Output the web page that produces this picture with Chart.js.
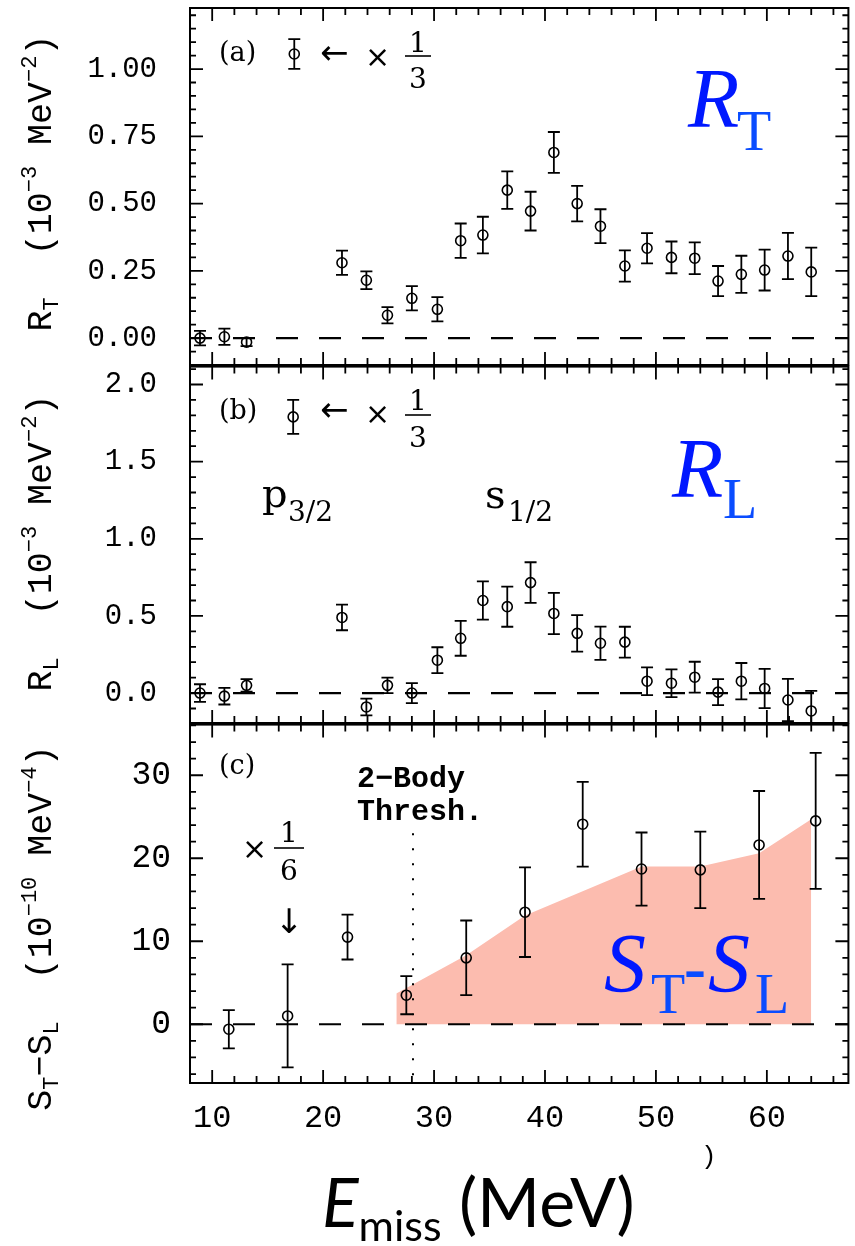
<!DOCTYPE html>
<html>
<head>
<meta charset="utf-8">
<script src="https://cdn.jsdelivr.net/npm/chart.js@4.4.1/dist/chart.umd.min.js"></script>
<style>
  body { margin: 0; background: #fff; width: 855px; height: 1246px; position: relative; overflow: hidden; }
  .panel { position: absolute; left: 0; width: 855px; }
</style>
</head>
<body>
<div class="panel" style="top:0;height:380px"><canvas id="panelA"></canvas></div>
<div class="panel" style="top:360px;height:380px"><canvas id="panelB"></canvas></div>
<div class="panel" style="top:718px;height:528px"><canvas id="panelC"></canvas></div>
<script>
// missing energy (MeV) of the points in panels (a) and (b)
const E_AB = [8.9, 11.1, 13.1, 21.7, 23.9, 25.8, 28.0, 30.3, 32.4, 34.4, 36.6, 38.7,
  40.8, 42.9, 45.0, 47.2, 49.2, 51.4, 53.5, 55.6, 57.7, 59.8, 61.9, 64.0];
const RT = [0.00, 0.005, -0.015, 0.28, 0.215, 0.085, 0.148, 0.107, 0.362, 0.383, 0.55, 0.472,
  0.69, 0.50, 0.416, 0.268, 0.334, 0.30, 0.297, 0.212, 0.237, 0.253, 0.305, 0.246];
const RT_ERR = [0.027, 0.03, 0.015, 0.045, 0.033, 0.03, 0.045, 0.045, 0.064, 0.068, 0.07, 0.072,
  0.076, 0.066, 0.063, 0.058, 0.056, 0.059, 0.059, 0.056, 0.069, 0.076, 0.086, 0.09];
const RL = [0.0, -0.02, 0.05, 0.49, -0.09, 0.05, 0.0, 0.213, 0.355, 0.60, 0.56, 0.716,
  0.516, 0.387, 0.323, 0.33, 0.077, 0.064, 0.103, 0.006, 0.077, 0.03, -0.045, -0.116];
const RL_ERR = [0.057, 0.054, 0.04, 0.083, 0.054, 0.05, 0.065, 0.084, 0.113, 0.124, 0.13, 0.132,
  0.134, 0.118, 0.108, 0.10, 0.09, 0.09, 0.10, 0.084, 0.118, 0.127, 0.137, 0.13];

// the p3/2 peak points, drawn at 1/3 scale
const E_A_SCALED = [17.4];
const RT_SCALED = [1.056];
const RT_SCALED_ERR = [0.055];
const E_B_SCALED = [17.3];
const RL_SCALED = [1.79];
const RL_SCALED_ERR = [0.11];

// panel (c)
const E_C = [11.5, 16.8, 22.2, 27.5, 32.9, 38.2, 43.4, 48.7, 54.0, 59.3, 64.4];
const STSL = [-0.6, 1.0, 10.5, 3.5, 8.0, 13.5, 24.1, 18.7, 18.6, 21.6, 24.5];
const STSL_ERR = [2.3, 6.2, 2.7, 2.3, 4.5, 5.4, 5.1, 4.4, 4.6, 6.5, 8.2];
const FILL_E = [26.6, 32.9, 38.2, 48.7, 54.0, 59.3, 64.0];
const FILL_V = [3.7, 8.3, 13.1, 19.0, 19.0, 20.6, 24.7];
const THRESHOLD_E = 28.1;

const X_TICKS = [10, 20, 30, 40, 50, 60];
const RT_TICKS = [0, 0.25, 0.5, 0.75, 1.0];
const RL_TICKS = [0, 0.5, 1.0, 1.5, 2.0];
const STSL_TICKS = [0, 10, 20, 30];

const MONO = "'Liberation Mono', monospace";
const SYM = "'DejaVu Sans', sans-serif";
const SERIF = "'Liberation Serif', serif";
const CAMBRIA = "'DejaVu Serif', serif";
const SANS = "Lato, 'Open Sans', sans-serif";
const BLUE = "#0018ff";
const BLUE_SUB = "#0a4cff";
const SALMON = "rgb(252, 188, 175)";

const toXY = (xs, ys) => xs.map((x, i) => ({ x: x, y: ys[i] }));

const marker = {
  showLine: false,
  pointRadius: 5,
  pointBorderWidth: 1.6,
  borderColor: "#000",
  pointBorderColor: "#000",
  backgroundColor: "rgba(255,255,255,0)",
  pointBackgroundColor: "rgba(255,255,255,0)",
};

function put(ctx, str, x, y, font, color, align) {
  ctx.font = font;
  ctx.fillStyle = color || "#000";
  ctx.textAlign = align || "left";
  ctx.textBaseline = "alphabetic";
  ctx.fillText(str, x, y);
}

// run of text pieces: [text, font, dy]
function rich(ctx, x, y, parts, center) {
  ctx.textAlign = "left";
  ctx.textBaseline = "alphabetic";
  let w = 0;
  parts.forEach((p) => { ctx.font = p[1]; w += ctx.measureText(p[0]).width; });
  let cx = center ? x - w / 2 : x;
  parts.forEach((p) => {
    ctx.font = p[1];
    ctx.fillStyle = p[3] || "#000";
    ctx.fillText(p[0], cx, y + (p[2] || 0));
    cx += ctx.measureText(p[0]).width;
  });
}

function yTitle(ctx, cx, cy, parts) {
  ctx.save();
  ctx.translate(cx, cy);
  ctx.rotate(-Math.PI / 2);
  rich(ctx, 0, 0, parts, true);
  ctx.restore();
}

function fraction(ctx, cx, num, den, yNum, yBar, yDen, halfBar) {
  put(ctx, num, cx, yNum, `28px ${CAMBRIA}`, "#000", "center");
  put(ctx, den, cx, yDen, `28px ${CAMBRIA}`, "#000", "center");
  ctx.lineWidth = 1.6;
  ctx.strokeStyle = "#000";
  ctx.beginPath();
  ctx.moveTo(cx - halfBar, yBar);
  ctx.lineTo(cx + halfBar, yBar);
  ctx.stroke();
}

function panelDecor(p) {
  return {
    id: "decor",
    afterDatasetsDraw(chart) {
      const { ctx, chartArea: a, scales: { x, y } } = chart;
      ctx.save();
      ctx.beginPath();
      ctx.rect(a.left, a.top, a.right - a.left, a.bottom - a.top);
      ctx.clip();
      ctx.strokeStyle = "#000";
      if (p.threshold) {
        ctx.lineWidth = 2;
        ctx.setLineDash([2, 13]);
        const tx = x.getPixelForValue(p.threshold);
        ctx.beginPath();
        ctx.moveTo(tx, y.getPixelForValue(23));
        ctx.lineTo(tx, a.bottom);
        ctx.stroke();
      }
      // dashed zero line
      ctx.lineWidth = 2.2;
      ctx.setLineDash([22, 21]);
      const y0 = y.getPixelForValue(0);
      ctx.beginPath();
      ctx.moveTo(a.left, y0);
      ctx.lineTo(a.right, y0);
      ctx.stroke();
      ctx.setLineDash([]);
      // error bars
      ctx.lineWidth = 1.8;
      p.errors.forEach((s) => {
        s.xs.forEach((e, i) => {
          const px = x.getPixelForValue(e);
          const hi = y.getPixelForValue(s.ys[i] + s.errs[i]);
          const lo = y.getPixelForValue(s.ys[i] - s.errs[i]);
          ctx.beginPath();
          ctx.moveTo(px, hi); ctx.lineTo(px, lo);
          ctx.moveTo(px - 6, hi); ctx.lineTo(px + 6, hi);
          ctx.moveTo(px - 6, lo); ctx.lineTo(px + 6, lo);
          ctx.stroke();
        });
      });
      ctx.restore();
    },
    afterDraw(chart) {
      const { ctx, chartArea: a, scales: { x, y } } = chart;
      ctx.save();
      ctx.strokeStyle = "#000";
      ctx.lineWidth = 2;
      ctx.strokeRect(a.left, a.top, a.right - a.left, a.bottom - a.top);
      ctx.lineWidth = 1.8;
      ctx.beginPath();
      for (let v = 8; v <= 67; v += 2) {
        const len = v % 10 === 0 ? 13 : 7;
        const px = x.getPixelForValue(v);
        ctx.moveTo(px, a.bottom); ctx.lineTo(px, a.bottom - len);
        ctx.moveTo(px, a.top); ctx.lineTo(px, a.top + len);
      }
      for (let k = p.minor.from; k <= p.minor.to; k++) {
        const len = k % p.minor.every === 0 ? 13 : 6;
        const py = y.getPixelForValue(k * p.minor.step);
        if (py < a.top || py > a.bottom) continue;
        ctx.moveTo(a.left, py); ctx.lineTo(a.left + len, py);
        ctx.moveTo(a.right, py); ctx.lineTo(a.right - len, py);
      }
      ctx.stroke();
      ctx.translate(0, -p.offset);
      p.annotate(ctx);
      ctx.restore();
    },
  };
}

function panelOptions(p) {
  return {
    responsive: true,
    maintainAspectRatio: false,
    animation: false,
    events: [],
    layout: { padding: { top: p.padTop, bottom: p.padBottom, left: 0, right: 4 } },
    plugins: { legend: { display: false }, tooltip: { enabled: false } },
    scales: {
      x: {
        type: "linear",
        min: 8,
        max: 67.35,
        display: p.showX,
        grid: { display: false, drawTicks: false },
        border: { display: false },
        afterBuildTicks: (s) => { s.ticks = X_TICKS.map((v) => ({ value: v })); },
        afterFit: (s) => { s.height = p.xHeight || 0; s.paddingLeft = 0; s.paddingRight = 0; },
        ticks: { padding: 16, color: "#000", font: { family: MONO, size: 32 }, maxRotation: 0, autoSkip: false },
      },
      y: {
        type: "linear",
        min: p.yMin,
        max: p.yMax,
        grid: { display: false, drawTicks: false },
        border: { display: false },
        afterBuildTicks: (s) => { s.ticks = p.yTicks.map((v) => ({ value: v })); },
        afterFit: (s) => { s.width = 190; s.paddingTop = 0; s.paddingBottom = 0; },
        ticks: { padding: p.yPad, color: "#000", font: { family: MONO, size: p.yFont }, callback: p.fmt, autoSkip: false },
      },
    },
  };
}

function makePanel(id, p) {
  return new Chart(document.getElementById(id), {
    type: "scatter",
    data: { datasets: p.datasets },
    options: panelOptions(p),
    plugins: [panelDecor(p)],
  });
}

makePanel("panelA", {
  offset: 0, padTop: 8, padBottom: 15, showX: false,
  yMin: -0.10, yMax: 1.227, yTicks: RT_TICKS, yPad: 33, yFont: 29,
  fmt: (v) => v.toFixed(2),
  minor: { from: -2, to: 24, step: 0.05, every: 5 },
  datasets: [
    { data: toXY(E_AB, RT), ...marker },
    { data: toXY(E_A_SCALED, RT_SCALED), ...marker },
  ],
  errors: [
    { xs: E_AB, ys: RT, errs: RT_ERR },
    { xs: E_A_SCALED, ys: RT_SCALED, errs: RT_SCALED_ERR },
  ],
  annotate(ctx) {
    yTitle(ctx, 51, 183, [
      ["R", `35px ${MONO}`, 0], ["T", `22px ${MONO}`, 7],
      ["  (10", `35px ${MONO}`, 0], ["\u22123", `22px ${MONO}`, -15],
      [" MeV", `35px ${MONO}`, 0], ["\u22122", `22px ${MONO}`, -15],
      [")", `35px ${MONO}`, 0],
    ]);
    put(ctx, "(a)", 219, 61, `27px ${CAMBRIA}`);
    put(ctx, "\u2190", 320, 64, `34px ${SYM}`);
    put(ctx, "\u00d7", 365, 67, `30px ${SYM}`);
    fraction(ctx, 418, "1", "3", 52, 56, 88, 13);
    put(ctx, "R", 688, 127, `italic 84px ${SERIF}`, BLUE);
    put(ctx, "T", 737, 150, `56px ${SERIF}`, BLUE_SUB);
  },
});

makePanel("panelB", {
  offset: 360, padTop: 5, padBottom: 17, showX: false,
  yMin: -0.194, yMax: 2.116, yTicks: RL_TICKS, yPad: 33, yFont: 29,
  fmt: (v) => v.toFixed(1),
  minor: { from: -1, to: 21, step: 0.1, every: 5 },
  datasets: [
    { data: toXY(E_AB, RL), ...marker },
    { data: toXY(E_B_SCALED, RL_SCALED), ...marker },
  ],
  errors: [
    { xs: E_AB, ys: RL, errs: RL_ERR },
    { xs: E_B_SCALED, ys: RL_SCALED, errs: RL_SCALED_ERR },
  ],
  annotate(ctx) {
    yTitle(ctx, 51, 543, [
      ["R", `35px ${MONO}`, 0], ["L", `22px ${MONO}`, 7],
      ["  (10", `35px ${MONO}`, 0], ["\u22123", `22px ${MONO}`, -15],
      [" MeV", `35px ${MONO}`, 0], ["\u22122", `22px ${MONO}`, -15],
      [")", `35px ${MONO}`, 0],
    ]);
    put(ctx, "(b)", 219, 419, `27px ${CAMBRIA}`);
    put(ctx, "\u2190", 320, 421, `34px ${SYM}`);
    put(ctx, "\u00d7", 365, 424, `30px ${SYM}`);
    fraction(ctx, 418, "1", "3", 410, 415, 447, 13);
    put(ctx, "p", 262, 507, `40px ${CAMBRIA}`);
    put(ctx, "3/2", 288, 521, `28px ${CAMBRIA}`);
    put(ctx, "s", 485, 508, `40px ${CAMBRIA}`);
    put(ctx, "1/2", 508, 521, `28px ${CAMBRIA}`);
    put(ctx, "R", 672, 497, `italic 84px ${SERIF}`, BLUE);
    put(ctx, "L", 723, 518, `56px ${SERIF}`, BLUE_SUB);
  },
});

makePanel("panelC", {
  offset: 718, padTop: 5, padBottom: 0, showX: true, xHeight: 163,
  yMin: -7.08, yMax: 36.1, yTicks: STSL_TICKS, yPad: 19, yFont: 33,
  fmt: (v) => String(v),
  minor: { from: -3, to: 18, step: 2, every: 5 },
  threshold: THRESHOLD_E,
  datasets: [
    { data: toXY(E_C, STSL), ...marker },
    {
      type: "line",
      data: toXY(FILL_E, FILL_V),
      fill: "origin",
      backgroundColor: SALMON,
      borderColor: "rgba(0,0,0,0)",
      borderWidth: 0,
      pointRadius: 0,
      tension: 0,
    },
  ],
  errors: [{ xs: E_C, ys: STSL, errs: STSL_ERR }],
  annotate(ctx) {
    yTitle(ctx, 51, 928, [
      ["S", `35px ${MONO}`, 0], ["T", `22px ${MONO}`, 7],
      ["\u2212S", `35px ${MONO}`, 0], ["L", `22px ${MONO}`, 7],
      ["  (10", `35px ${MONO}`, 0], ["\u221210", `22px ${MONO}`, -15],
      [" MeV", `35px ${MONO}`, 0], ["\u22124", `22px ${MONO}`, -15],
      [")", `35px ${MONO}`, 0],
    ]);
    put(ctx, "(c)", 219, 774, `27px ${CAMBRIA}`);
    put(ctx, "2\u2212Body", 357, 787, `bold 30px ${MONO}`);
    put(ctx, "Thresh.", 357, 820, `bold 30px ${MONO}`);
    put(ctx, "\u00d7", 242, 859, `30px ${SYM}`);
    fraction(ctx, 289, "1", "6", 842, 848, 880, 15);
    put(ctx, "\u2193", 289, 933, `34px ${SYM}`, "#000", "center");
    put(ctx, "S", 604, 992, `italic 84px ${SERIF}`, BLUE);
    put(ctx, "T", 651, 1013, `56px ${SERIF}`, BLUE_SUB);
    put(ctx, "-", 684, 990, `bold 66px ${SERIF}`, BLUE_SUB);
    put(ctx, "S", 708, 992, `italic 84px ${SERIF}`, BLUE);
    put(ctx, "L", 755, 1013, `56px ${SERIF}`, BLUE_SUB);
    put(ctx, ")", 701, 1164, `26px ${MONO}`);
    rich(ctx, 322, 1227, [
      ["E", `italic 68px ${SANS}`, 0],
      ["miss", `43px ${SANS}`, 14],
      [" (MeV)", `68px ${SANS}`, 0],
    ], false);
  },
});
</script>
</body>
</html>
